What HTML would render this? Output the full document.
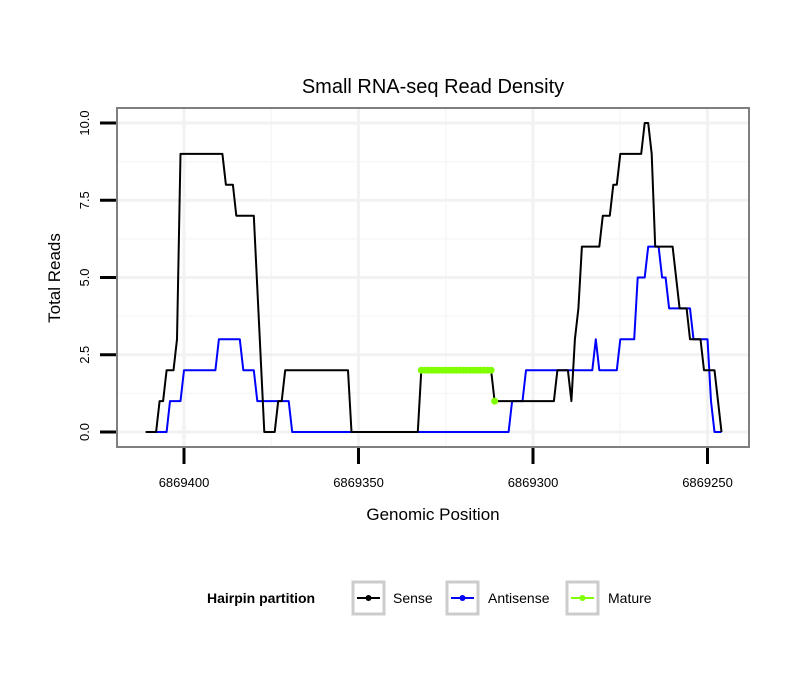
<!DOCTYPE html>
<html><head><meta charset="utf-8"><style>
body{margin:0;background:#fff;}
svg{display:block;font-family:"Liberation Sans",sans-serif;}
</style></head><body>
<svg id="chart" width="810" height="690">
<text x="433" y="93" text-anchor="middle" font-size="20">Small RNA-seq Read Density</text>
<g id="grid"></g>
<g id="series"></g>
<rect x="117" y="108" width="632" height="339" fill="none" stroke="#7f7f7f" stroke-width="2"/>
<g id="axes"></g>
<text x="433" y="520" text-anchor="middle" font-size="17">Genomic Position</text>
<text transform="translate(60,278) rotate(-90)" text-anchor="middle" font-size="17">Total Reads</text>
<g>
<text x="207" y="603" font-size="14" font-weight="bold">Hairpin partition</text>
<g>
<rect x="353" y="582" width="31" height="32" fill="#fff" stroke="#cccccc" stroke-width="3"/>
<line x1="357" y1="598" x2="380" y2="598" stroke="#000" stroke-width="2"/><circle cx="368.5" cy="598" r="3" fill="#000"/>
<text x="393" y="603" font-size="14">Sense</text></g>
<g>
<rect x="447" y="582" width="31" height="32" fill="#fff" stroke="#cccccc" stroke-width="3"/>
<line x1="451" y1="598" x2="474" y2="598" stroke="#0000ff" stroke-width="2"/><circle cx="462.5" cy="598" r="3" fill="#0000ff"/>
<text x="488" y="603" font-size="14">Antisense</text></g>
<g>
<rect x="567" y="582" width="31" height="32" fill="#fff" stroke="#cccccc" stroke-width="3"/>
<line x1="571" y1="598" x2="594" y2="598" stroke="#7fff00" stroke-width="2"/><circle cx="582.5" cy="598" r="3" fill="#7fff00"/>
<text x="608" y="603" font-size="14">Mature</text></g>
</g>
</svg>
<script>
const senseX=[6869411,6869408,6869407,6869406,6869405,6869403,6869402,6869401,6869389,6869388,6869386,6869385,6869380,6869377,6869374,6869373,6869372,6869371,6869353,6869352,6869333,6869332,6869312,6869311,6869294,6869293,6869290,6869289,6869288,6869287,6869286,6869281,6869280,6869278,6869277,6869276,6869275,6869269,6869268,6869267,6869266,6869265,6869260,6869258,6869256,6869255,6869252,6869251,6869248,6869246];
const senseY=[0,0,1,1,2,2,3,9,9,8,8,7,7,0,0,1,1,2,2,0,0,2,2,1,1,2,2,1,3,4,6,6,7,7,8,8,9,9,10,10,9,6,6,4,4,3,3,2,2,0];
const antiX=[6869408,6869405,6869404,6869401,6869400,6869391,6869390,6869384,6869383,6869380,6869379,6869370,6869369,6869307,6869306,6869303,6869302,6869283,6869282,6869281,6869276,6869275,6869271,6869270,6869268,6869267,6869264,6869263,6869262,6869261,6869255,6869254,6869250,6869249,6869248,6869246];
const antiY=[0,0,1,1,2,2,3,3,2,2,1,1,0,0,1,1,2,2,3,2,2,3,3,5,5,6,6,5,5,4,4,3,3,1,0,0];
const matureX=[6869332,6869331,6869330,6869329,6869328,6869327,6869326,6869325,6869324,6869323,6869322,6869321,6869320,6869319,6869318,6869317,6869316,6869315,6869314,6869313,6869312];
const matureY=[2,2,2,2,2,2,2,2,2,2,2,2,2,2,2,2,2,2,2,2,2];
const matureExtraX=[6869311];
const matureExtraY=[1];
const xTicks=[6869400,6869350,6869300,6869250];
const yTicks=[0,2.5,5,7.5,10];
const yTickLabels=["0.0","2.5","5.0","7.5","10.0"];

const NS="http://www.w3.org/2000/svg";
const sx=v=>184+(6869400-v)*3.49;
const sy=v=>432-v*30.9;
function mk(tag,attrs,parent){const e=document.createElementNS(NS,tag);for(const k in attrs)e.setAttribute(k,attrs[k]);parent.appendChild(e);return e;}
const grid=document.getElementById('grid'),series=document.getElementById('series'),axes=document.getElementById('axes');
// minor grid
for(let i=0;i<xTicks.length+1;i++){const v=xTicks[0]+25-i*50;const x=sx(v);if(x>117&&x<749){const l=mk('line',{x1:x,x2:x,y1:108,y2:447,stroke:'#f7f7f7','stroke-width':1.5},grid);

}}
for(let i=0;i<yTicks.length+1;i++){const v=yTicks[0]-1.25+i*2.5;const y=sy(v);if(y>108&&y<447){const l=mk('line',{x1:117,x2:749,y1:y,y2:y,stroke:'#f7f7f7','stroke-width':1.5},grid);

}}
xTicks.forEach(v=>{const l=mk('line',{x1:sx(v),x2:sx(v),y1:108,y2:447,stroke:'#f2f2f2','stroke-width':3},grid);

});
yTicks.forEach(v=>{const l=mk('line',{x1:117,x2:749,y1:sy(v),y2:sy(v),stroke:'#f2f2f2','stroke-width':3},grid);

});
function line(xs,ys,color,name){const p=xs.map((v,i)=>sx(v).toFixed(1)+','+sy(ys[i]).toFixed(1)).join(' ');const e=mk('polyline',{points:p,fill:'none',stroke:color,'stroke-width':2,'stroke-linejoin':'round'},series);

}
line(antiX,antiY,'#0000ff','antisense-line');
line(senseX,senseY,'#000000','sense-line');
line(matureX,matureY,'#7fff00','mature-line');
matureX.concat(matureExtraX).forEach((v,i)=>{const y=i<matureY.length?matureY[i]:matureExtraY[i-matureY.length];const c=mk('circle',{cx:sx(v),cy:sy(y),r:3.5,fill:'#7fff00'},series);

});
xTicks.forEach(v=>{const t=mk('line',{x1:sx(v),x2:sx(v),y1:448,y2:464,stroke:'#000','stroke-width':3},axes);


const tx=mk('text',{x:sx(v),y:487,'text-anchor':'middle','font-size':13},axes);tx.textContent=v;

});
yTicks.forEach((v,i)=>{const t=mk('line',{x1:100,x2:116,y1:sy(v),y2:sy(v),stroke:'#000','stroke-width':3},axes);


const tx=mk('text',{transform:`translate(89,${sy(v)}) rotate(-90)`,'text-anchor':'middle','font-size':13},axes);tx.textContent=yTickLabels[i];

});
</script>
</body></html>
